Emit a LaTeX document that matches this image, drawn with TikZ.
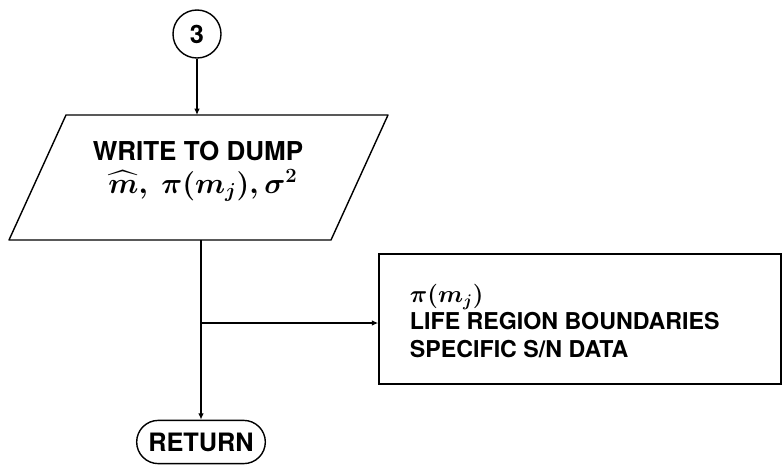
\documentclass[tikz,border=0pt]{standalone}
\usepackage{fontspec}
\setmainfont{TeX Gyre Heros}
\usepackage{amsmath}
\usetikzlibrary{arrows.meta, positioning, shapes.geometric, shapes.misc}

\begin{document}
\begin{tikzpicture}[
    x=0.025cm, y=-0.025cm,
    every node/.style={font=\bfseries},
    flowline/.style={line width=1pt, line join=round},
    flowarrow/.style={line width=1pt, -{Latex[length=1.6mm, width=1.4mm]}},
    connector/.style={circle, draw, line width=1pt, minimum size=1.2cm, inner sep=0pt, font=\bfseries\fontsize{18}{20}\selectfont},
    notebox/.style={rectangle, draw, line width=1pt, minimum width=10.05cm, minimum height=3.25cm},
    endbox/.style={rounded rectangle, draw, line width=1pt, minimum width=3.45cm, minimum height=1.08cm,
        font=\bfseries\fontsize{18}{20}\selectfont},
    boxtext/.style={font=\bfseries\fontsize{16.5}{19.5}\selectfont, align=left, anchor=west},
    dumplabel/.style={inner sep=0pt, anchor=base, font=\bfseries\fontsize{18.5}{20}\selectfont},
]
\useasboundingbox (0,0) rectangle (783,468);
% off-page connector and output step
\node[connector] (conn3) at (197,34) {3};
\coordinate (dumpNW) at (66,115);
\coordinate (dumpNE) at (388,115);
\coordinate (dumpSE) at (331,240);
\coordinate (dumpSW) at (9,240);
\draw[flowline] (dumpNW) -- (dumpNE) -- (dumpSE) -- (dumpSW) -- cycle;
\node[dumplabel] (dumptext) at (198,160) {WRITE TO DUMP};
\node[dumplabel, font=\fontsize{20}{22}\selectfont\boldmath] (dumpvars) at (203,193) {$\widehat{m},\ \pi(m_j), \sigma^{2}$};
% side note and end
\node[notebox] (note) at (580,319) {};
\node[boxtext] (notetext) at (405,321) {{\fontsize{17.5}{19.5}\selectfont\boldmath$\pi(m_j)$}\\LIFE REGION BOUNDARIES\\SPECIFIC S/N DATA};
\node[endbox] (ret) at (201,442) {RETURN};
\coordinate (tap) at (201,323);
\draw[flowarrow] (conn3.south) -- (conn3.south |- dumpNW);
\draw[flowarrow] (ret.north |- dumpSW) -- (ret.north);
\draw[flowarrow] (tap) -- (tap -| note.west);
\end{tikzpicture}
\end{document}
